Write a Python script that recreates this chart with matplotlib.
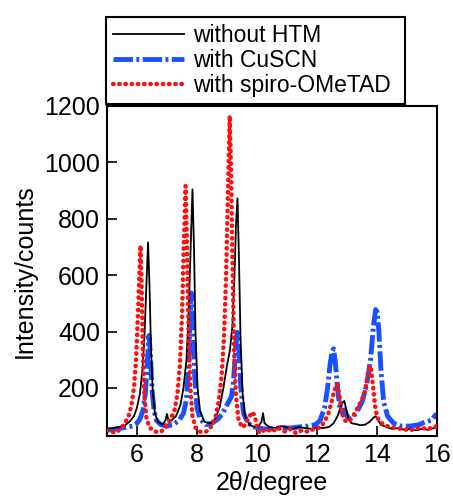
import matplotlib.pyplot as plt

plt.rcParams['font.family'] = ['Liberation Sans', 'DejaVu Sans']

# without HTM
x_none = [5.0, 5.2, 5.4, 5.6, 5.75, 5.9, 6.0, 6.1, 6.18, 6.25, 6.31, 6.37, 6.42, 6.47, 6.53,
          6.6, 6.7, 6.85, 6.95, 7.0, 7.05, 7.15, 7.3, 7.45, 7.55, 7.65, 7.72, 7.79, 7.85, 7.9,
          7.95, 8.02, 8.1, 8.25, 8.45, 8.6, 8.75, 8.88, 9.0, 9.1, 9.18, 9.25, 9.3, 9.35, 9.4,
          9.45, 9.52, 9.6, 9.75, 9.9, 10.05, 10.15, 10.2, 10.25, 10.4, 10.6, 10.8, 11.0, 11.2,
          11.4, 11.6, 11.8, 12.0, 12.2, 12.4, 12.55, 12.68, 12.78, 12.86, 12.91, 12.97, 13.05,
          13.15, 13.3, 13.45, 13.6, 13.75, 13.88, 13.95, 14.02, 14.12, 14.3, 14.5, 14.7, 14.9,
          15.1, 15.3, 15.5, 15.7, 15.9, 16.0]
y_none = [55, 58, 62, 68, 80, 100, 130, 180, 260, 380, 550, 716, 560, 330, 180,
          110, 80, 70, 85, 108, 85, 85, 100, 140, 200, 300, 450, 700, 904, 700,
          400, 200, 120, 80, 75, 90, 130, 200, 280, 335, 420, 600, 780, 872, 650,
          380, 180, 100, 70, 62, 65, 80, 111, 75, 62, 58, 65, 60, 55,
          62, 58, 55, 60, 58, 62, 75, 100, 130, 150, 154, 125, 90,
          75, 72, 68, 70, 80, 95, 100, 88, 70, 62, 55, 58, 52,
          55, 50, 55, 52, 58, 60]

# with CuSCN
x_cu = [5.0, 5.3, 5.6, 5.85, 6.0, 6.1, 6.2, 6.28, 6.34, 6.4, 6.45, 6.5, 6.57, 6.65, 6.8,
        7.0, 7.2, 7.4, 7.55, 7.65, 7.72, 7.77, 7.81, 7.86, 7.92, 8.0, 8.1, 8.3, 8.5, 8.7,
        8.85, 8.95, 9.05, 9.15, 9.22, 9.28, 9.34, 9.4, 9.46, 9.55, 9.7, 9.9, 10.2, 10.5,
        10.8, 11.1, 11.4, 11.7, 11.95, 12.1, 12.25, 12.35, 12.43, 12.5, 12.55, 12.61, 12.68,
        12.76, 12.85, 12.92, 13.0, 13.1, 13.3, 13.5, 13.65, 13.78, 13.88, 13.95, 14.0, 14.06,
        14.13, 14.22, 14.35, 14.55, 14.8, 15.1, 15.4, 15.6, 15.8, 15.95, 16.0]
y_cu = [50, 55, 60, 65, 75, 90, 120, 180, 280, 386, 320, 200, 120, 85, 70,
        65, 70, 85, 110, 160, 280, 450, 537, 440, 250, 130, 90, 70, 75, 90,
        110, 130, 150, 170, 230, 330, 398, 330, 200, 110, 75, 62, 55, 55,
        60, 58, 62, 65, 70, 85, 130, 200, 280, 330, 339, 290, 200,
        130, 110, 122, 100, 90, 110, 150, 210, 300, 420, 478, 470, 400,
        260, 150, 100, 75, 65, 65, 70, 80, 85, 105, 100]

# with spiro-OMeTAD
x_sp = [5.0, 5.15, 5.3, 5.45, 5.6, 5.72, 5.82, 5.9, 5.97, 6.03, 6.08, 6.12, 6.16, 6.2, 6.25,
        6.32, 6.42, 6.6, 6.8, 6.95, 7.1, 7.25, 7.35, 7.43, 7.5, 7.56, 7.62, 7.67, 7.72, 7.78,
        7.85, 7.95, 8.1, 8.3, 8.45, 8.6, 8.72, 8.82, 8.9, 8.97, 9.03, 9.09, 9.14, 9.19, 9.24,
        9.3, 9.38, 9.5, 9.62, 9.75, 9.85, 9.93, 10.0, 10.1, 10.3, 10.5, 10.7, 10.9, 11.1,
        11.3, 11.5, 11.7, 11.9, 12.1, 12.25, 12.38, 12.48, 12.55, 12.62, 12.68, 12.75, 12.82,
        12.92, 13.05, 13.2, 13.35, 13.5, 13.6, 13.68, 13.74, 13.8, 13.87, 13.95, 14.05, 14.2,
        14.4, 14.6, 14.8, 15.1, 15.4, 15.7, 16.0]
y_sp = [50, 45, 42, 55, 75, 100, 140, 200, 300, 450, 600, 705, 550, 320, 170,
        90, 60, 45, 45, 60, 85, 120, 180, 280, 450, 700, 916, 700, 400, 200,
        100, 60, 45, 45, 60, 90, 150, 240, 380, 600, 880, 1165, 950, 600, 320,
        170, 90, 60, 70, 100, 115, 100, 60, 40, 55, 45, 60, 45, 55,
        40, 50, 45, 55, 60, 80, 110, 150, 180, 205, 214, 170, 115,
        85, 80, 100, 130, 160, 190, 240, 279, 265, 200, 120, 85, 72,
        62, 58, 55, 50, 60, 55, 65]

fig = plt.figure(figsize=(4.53, 5.04), dpi=100)
ax = fig.add_axes([0.236, 0.135, 0.729, 0.655])

l1, = ax.plot(x_none, y_none, color='black', lw=1.3, label='without HTM', zorder=3)
l2, = ax.plot(x_cu, y_cu, color='#1a50ff', lw=3.5, linestyle=(0, (4, 0.7, 0.6, 0.7)),
              label='with CuSCN', zorder=2)
l3, = ax.plot(x_sp, y_sp, color='#ff1010', lw=3.2, linestyle=(0, (0.1, 1.3)),
              dash_capstyle='round', label='with spiro-OMeTAD', zorder=4)

ax.set_xlim(5, 16)
ax.set_ylim(30, 1200)
ax.set_xticks([6, 8, 10, 12, 14, 16])
ax.set_yticks([200, 400, 600, 800, 1000, 1200])
ax.tick_params(direction='in', length=7, width=1.2, labelsize=18, pad=5)
for s in ax.spines.values():
    s.set_linewidth(1.5)

ax.set_xlabel('2θ/degree', fontsize=18, labelpad=3)
ax.set_ylabel('Intensity/counts', fontsize=18, labelpad=5)

leg = fig.legend(handles=[l1, l2, l3], loc='lower left',
                 bbox_to_anchor=(0.234, 0.794, 0.66, 0.179), mode='expand',
                 borderaxespad=0, fontsize=16.5, handlelength=3.1, handletextpad=0.4,
                 borderpad=0.3, labelspacing=0.08, fancybox=False, edgecolor='black',
                 framealpha=1)
leg.get_frame().set_linewidth(1.5)

fig.savefig('out.png', dpi=100)
